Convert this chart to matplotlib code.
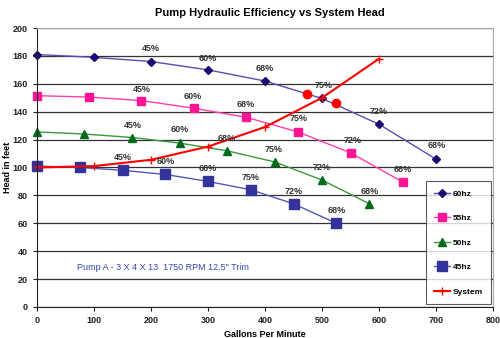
import matplotlib.pyplot as plt

plt.rcParams['font.family'] = ['Liberation Sans', 'DejaVu Sans']

# pump curves (gpm, head in feet)
gpm_60 = [0, 100, 200, 300, 400, 500, 600, 700]
head_60 = [181, 179, 176, 170, 162, 149.5, 131, 106]
gpm_55 = [0, 92, 183, 275, 367, 458, 550, 642]
head_55 = [151.5, 150.5, 148, 142.5, 136, 125.5, 110.5, 89.5]
gpm_50 = [0, 83, 167, 250, 333, 417, 500, 583]
head_50 = [125.5, 124, 121.5, 117.5, 112, 104, 91, 74]
gpm_45 = [0, 75, 150, 225, 300, 375, 450, 525]
head_45 = [101, 100, 98, 95, 90, 84, 74, 60]
gpm_sys = [0, 100, 200, 300, 400, 500, 600]
head_sys = [100, 101, 105.5, 115, 129, 150, 178]
op_gpm = [474, 525]
op_head = [153, 146]

# efficiency labels
eff_60 = ['45%', '60%', '68%', '75%', '72%', '68%']
eff_60_x = [200, 300, 400, 502, 600, 701]
eff_60_y = [185, 178, 171, 158.5, 140, 115.5]
eff_55 = ['45%', '60%', '68%', '75%', '72%', '68%']
eff_55_x = [184, 274, 367, 459, 553, 642]
eff_55_y = [156, 151, 145, 135, 119, 98.5]
eff_50 = ['45%', '60%', '68%', '75%', '72%', '68%']
eff_50_x = [168, 251, 333, 416, 500, 584]
eff_50_y = [130, 127.5, 121, 113, 100, 83]
eff_45 = ['45%', '60%', '68%', '75%', '72%', '68%']
eff_45_x = [151, 226, 300, 374, 451, 526]
eff_45_y = [107.5, 104, 99.5, 92.5, 83, 69]

fig = plt.figure(figsize=(5, 3.38), dpi=100)
ax = fig.add_axes([0.074, 0.092, 0.912, 0.825])

ax.plot(gpm_60, head_60, color='#5a4fb0', lw=1, marker='D', ms=4.5,
        mfc='#1c0c70', mec='#1c0c70', label='60hz', clip_on=False)
ax.plot(gpm_55, head_55, color='#ff3fa8', lw=1, marker='s', ms=5.5,
        mfc='#ff1493', mec='#ff1493', label='55hz', clip_on=False)
ax.plot(gpm_50, head_50, color='#3a9a3a', lw=1, marker='^', ms=5.5,
        mfc='#006b1a', mec='#006b1a', label='50hz', clip_on=False)
ax.plot(gpm_45, head_45, color='#5555bb', lw=1, marker='s', ms=7.5,
        mfc='#333399', mec='#333399', label='45hz', clip_on=False)
ax.plot(gpm_sys, head_sys, color='#ff0000', lw=1.5, marker='+', ms=6,
        mew=1, label='System', clip_on=False)
ax.plot(op_gpm, op_head, ls='none', marker='o', ms=6, color='#ff0000')

for labels, xs, ys in [(eff_60, eff_60_x, eff_60_y), (eff_55, eff_55_x, eff_55_y),
                       (eff_50, eff_50_x, eff_50_y), (eff_45, eff_45_x, eff_45_y)]:
    for t, x, y in zip(labels, xs, ys):
        ax.text(x, y, t, ha='center', va='center', fontsize=6.5,
                fontweight='bold', color='#333333')

ax.text(221, 28.5, 'Pump A - 3 X 4 X 13  1750 RPM 12.5" Trim', ha='center',
        va='center', fontsize=6.5, color='#3347b0')

ax.set_xlim(0, 800)
ax.set_ylim(0, 200)
ax.set_xticks(range(0, 801, 100))
ax.set_yticks(range(0, 201, 20))
ax.tick_params(labelsize=6.5, length=3, width=0.8, colors='#222222')
for lab in ax.get_xticklabels() + ax.get_yticklabels():
    lab.set_fontweight('bold')
ax.grid(axis='y', color='#333333', lw=0.9)
ax.set_axisbelow(True)
for s in ['top', 'right']:
    ax.spines[s].set_color('#aaaaaa')
for s in ['left', 'bottom']:
    ax.spines[s].set_color('#222222')

ax.set_title('Pump Hydraulic Efficiency vs System Head', fontsize=8,
             fontweight='bold', x=0.51, pad=9)
ax.set_xlabel('Gallons Per Minute', fontsize=6.5, fontweight='bold', labelpad=4)
ax.set_ylabel('Head in feet', fontsize=6.5, fontweight='bold')
ax.yaxis.set_label_coords(-0.055, 0.5)

leg = ax.legend(loc='lower right', bbox_to_anchor=(0.996, 0.011),
                frameon=True, fancybox=False, edgecolor='#333333',
                labelspacing=2.0, handlelength=1.9, handletextpad=0.35,
                borderpad=1.0, borderaxespad=0,
                prop={'weight': 'bold', 'size': 6})
leg.get_frame().set_linewidth(0.8)

fig.savefig('out.png', dpi=100)
